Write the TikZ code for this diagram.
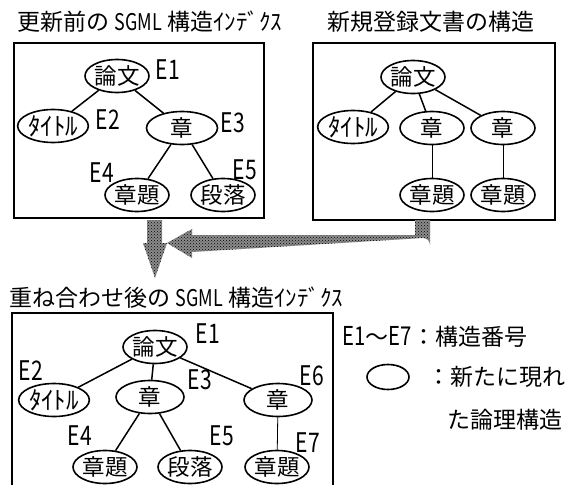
\documentclass[tikz,border=0pt]{standalone}
\usepackage{fontspec}
\newfontfamily\jpfont{Noto Sans CJK JP}
\newfontfamily\jpnarrow[FakeStretch=0.78]{Noto Sans CJK JP}
\usetikzlibrary{shapes.geometric,patterns}
\tikzset{every picture/.style={line width=1.5pt}}
\tikzstyle{elem}=[ellipse,draw,line width=1.6pt,inner sep=0pt,minimum width=64pt,minimum height=33pt,font=\jpfont\fontsize{22.5}{22.5}\selectfont]
\tikzstyle{enum}=[font=\jpnarrow\fontsize{27}{27}\selectfont,inner sep=0pt]
\tikzstyle{ttl}=[font=\jpfont\fontsize{23}{23}\selectfont,anchor=west,inner sep=0pt]
\tikzstyle{frame}=[draw,line width=1.6pt]
\tikzstyle{band}=[preaction={fill=black!45},pattern=crosshatch dots,pattern color=black]
\newcommand{\tit}{{\fontsize{25}{25}\selectfont ﾀｲﾄﾙ}}
\begin{document}
\begin{tikzpicture}
  [x=1pt,y=-1pt]
\useasboundingbox (0,0) rectangle (566,485);
% titles
\node[ttl] (tA) at (17,22) {更新前の {\jpnarrow SGML} 構造ｲﾝﾃﾞｸｽ};
\node[ttl] (tB) at (327,22) {新規登録文書の構造};
\node[ttl] (tC) at (9,298) {重ね合わせ後の {\jpnarrow SGML} 構造ｲﾝﾃﾞｸｽ};
% frames
\draw[frame] (14,43) rectangle (264,218);
\draw[frame] (313,43) rectangle (555,220);
\draw[frame] (12,495) -- (12,313) -- (333,313) -- (333,495);
% before update
\node[elem] (roA) at (117,76) {論文};
\node[elem] (tiA) at (53,126) {\tit};
\node[elem,minimum width=71pt] (chA) at (182,128) {章};
\node[elem] (hdA) at (137,195) {章題};
\node[elem] (paA) at (223,195) {段落};
\node[enum] (eA1) at (168,70) {E1};
\node[enum] (eA2) at (108,120) {E2};
\node[enum] (eA3) at (233,123) {E3};
\node[enum] (eA4) at (102,173) {E4};
\node[enum] (eA5) at (245,170) {E5};
\path
(roA) edge (tiA)
(roA) edge (chA)
(chA) edge (hdA)
(chA) edge (paA);
% new document
\node[elem] (roB) at (413,77) {論文};
\node[elem] (tiB) at (353,127) {\tit};
\node[elem] (chB) at (432,128) {章};
\node[elem] (chBB) at (503,128) {章};
\node[elem] (hdB) at (432,195) {章題};
\node[elem] (hdBB) at (503,195) {章題};
\path
(roB) edge (tiB)
(roB) edge (chB)
(roB) edge (chBB)
(chB) edge[line width=.8pt] (hdB)
(chBB) edge[line width=.8pt] (hdBB);
% merged index
\node[elem] (roC) at (155,347) {論文};
\node[elem] (tiC) at (54,400) {\tit};
\node[elem,minimum width=68pt] (chC) at (150,397) {章};
\node[elem,minimum width=68pt] (chCC) at (278,400) {章};
\node[elem] (hdC) at (105,467) {章題};
\node[elem] (paC) at (190,467) {段落};
\node[elem] (hdCC) at (277,467) {章題};
\node[enum] (eC1) at (208,334) {E1};
\node[enum] (eC2) at (31,371) {E2};
\node[enum] (eC3) at (200,380) {E3};
\node[enum] (eC4) at (80,436) {E4};
\node[enum] (eC5) at (222,436) {E5};
\node[enum] (eC6) at (312,376) {E6};
\node[enum] (eC7) at (308,443) {E7};
\path
(roC) edge (tiC)
(roC) edge (chC)
(roC) edge (chCC)
(chC) edge (hdC)
(chC) edge (paC)
(chCC) edge[line width=.8pt] (hdCC);
% legend
\node[ttl] (lg1) at (342,337) {{\jpnarrow\fontsize{26}{26}\selectfont E1}～{\jpnarrow\fontsize{26}{26}\selectfont E7}：構造番号};
\node[elem,minimum width=42pt,minimum height=25pt] (lgE) at (388,377) {};
\node[ttl] (lg2) at (427,377) {：新たに現れ};
\node[ttl] (lg3) at (447,420) {た論理構造};
% merge arrows
\fill[band] (415,220) -- (430,220) -- (430,245) arc[start angle=0,end angle=90,radius=7pt]
  -- (192,252) -- (192,258) -- (167,243) -- (192,229) -- (192,235) -- (415,235) -- cycle;
\fill[band] (147,220) -- (162,220) -- (162,243) -- (167,243) -- (155,278) -- (143,243) -- (147,243) -- cycle;
\end{tikzpicture}
\end{document}
